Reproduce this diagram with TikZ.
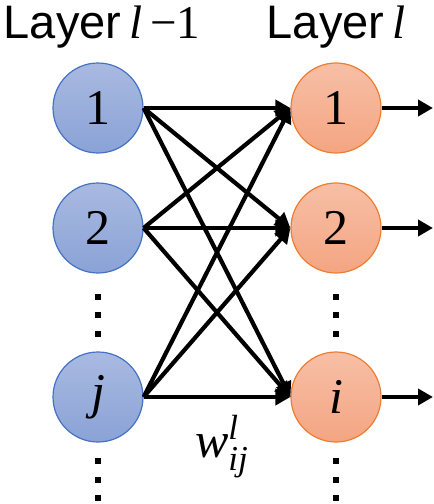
\documentclass[tikz,border=0pt]{standalone}
\usepackage{amsmath}
\usepackage{fontspec}
\setmainfont{Liberation Serif}
\newfontfamily\sansfont{Liberation Sans}
\usetikzlibrary{arrows.meta}
\definecolor{prevline}{HTML}{4472C4}
\definecolor{prevtop}{HTML}{A9BAE1}
\definecolor{prevbot}{HTML}{8AA2D6}
\definecolor{curline}{HTML}{ED7D31}
\definecolor{curtop}{HTML}{F7BFA6}
\definecolor{curbot}{HTML}{F4A582}

\begin{document}
\begin{tikzpicture}[x=0.5pt,y=-0.5pt,>={Triangle[length=7.5pt,width=8pt]},
    neuron/.style={circle,minimum size=45pt,inner sep=0pt,line width=0.6pt,
        font=\fontsize{25}{25}\selectfont},
    prevneuron/.style={neuron,draw=prevline,top color=prevtop,bottom color=prevbot},
    curneuron/.style={neuron,draw=curline,top color=curtop,bottom color=curbot},
    link/.style={line width=2.1pt,->},
    title/.style={anchor=base,font=\fontsize{23.5}{23.5}\selectfont}]
    \useasboundingbox (0,0) rectangle (434,504);

    \node[title] (titleprev) at (102,38) {{\sansfont Layer}\,\textit{l}\,−1};
    \node[title] (titlecur) at (336,38) {{\sansfont Layer}\,\textit{l}};

    \foreach \n/\lab/\yy in {1/1/108,2/2/228,j/\textit{j}/397}{
        \node[prevneuron] (prev\n) at (98,\yy) {\lab};
    }
    \foreach \n/\lab/\yy in {1/1/108,2/2/228,i/\textit{i}/397}{
        \node[curneuron] (cur\n) at (336,\yy) {\lab};
        \coordinate (out\n) at (433,\yy);
        \draw[link] (cur\n.east) -- (out\n);
    }

    \foreach \a in {1,2,j}{
        \foreach \b in {1,2,i}{
            \draw[link] (prev\a.east) -- (cur\b.west);
        }
    }

    % vertical dots
    \foreach \xx in {98,336}{
        \foreach \yy in {297,315,334,461,480,498}{
            \fill (\xx-3,\yy-3) rectangle (\xx+3,\yy+3);
        }
    }

    \node[font=\fontsize{25}{25}\selectfont] (weight) at (222,447)
        {$\textit{w}^{\textit{l}}_{\textit{ij}}$};
\end{tikzpicture}
\end{document}
